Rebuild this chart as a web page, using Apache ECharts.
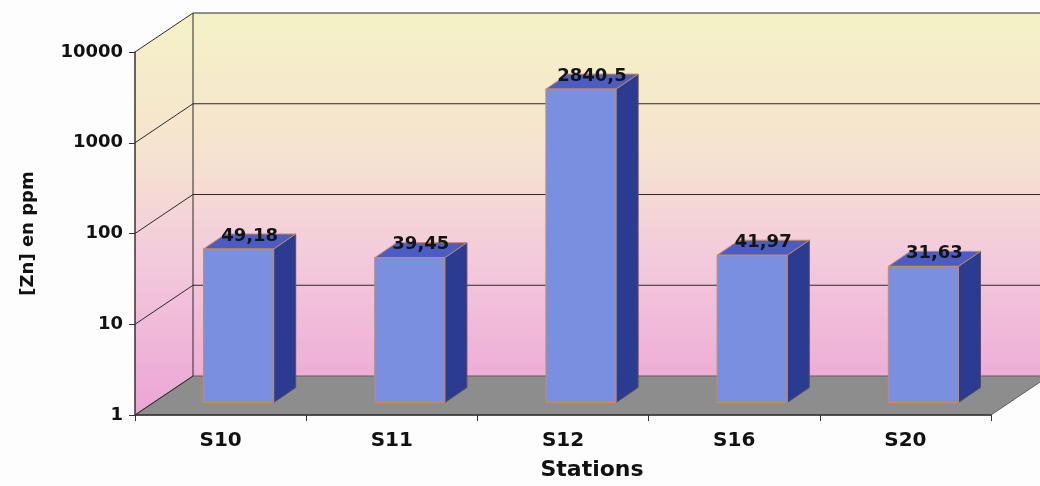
<!DOCTYPE html>
<html>
<head>
<meta charset="utf-8">
<script src="https://cdn.jsdelivr.net/npm/echarts@6/dist/echarts.min.js"></script>
<style>
  html, body { margin: 0; padding: 0; background: #fdfdfd; }
  #chart { width: 1040px; height: 486px; }
</style>
</head>
<body>
<div id="chart"></div>
<script>
// Zinc concentration per sampling station (ppm), log scale
const categories = ['S10', 'S11', 'S12', 'S16', 'S20'];
const znValues = [49.18, 39.45, 2840.5, 41.97, 31.63];
const yTicks = [1, 10, 100, 1000, 10000];

// Pseudo-3D geometry (pixels)
const WALL_DX = 58, WALL_DY = -39;      // depth of the walls / floor
const BAR_OX = 18, BAR_OY = -12.5;      // bars sit inside the depth
const BAR_DX = 22, BAR_DY = -15;        // thickness of each bar
const BAR_RATIO = 0.41;                 // front face width / category width

const FONT = 'DejaVu Sans';

const chart = echarts.init(document.getElementById('chart'), null, { renderer: 'canvas' });

function wallGradient(y0, y1) {
  return {
    type: 'linear', x: 0, y: y0, x2: 0, y2: y1, global: true,
    colorStops: [
      { offset: 0, color: '#f5f2c6' },
      { offset: 0.35, color: '#f5e3cf' },
      { offset: 0.6, color: '#f3cbdc' },
      { offset: 1, color: '#eca4d5' }
    ]
  };
}

function renderWalls(params, api) {
  const cs = params.coordSys;
  const x = cs.x, y = cs.y, w = cs.width, h = cs.height;
  const gTop = y + WALL_DY, gBot = y + h;
  const line = { stroke: '#2a2a2a', lineWidth: 1 };
  const children = [
    { type: 'polygon', shape: { points: [[x, y], [x + WALL_DX, y + WALL_DY], [x + WALL_DX, y + h + WALL_DY], [x, y + h]] },
      style: { fill: wallGradient(gTop, gBot) } },
    { type: 'rect', shape: { x: x + WALL_DX, y: y + WALL_DY, width: w, height: h },
      style: { fill: wallGradient(gTop, gBot) } },
    { type: 'polygon', shape: { points: [[x, y + h], [x + w, y + h], [x + w + WALL_DX, y + h + WALL_DY], [x + WALL_DX, y + h + WALL_DY]] },
      style: { fill: '#8d8d8d', stroke: '#5e5e5e', lineWidth: 1 } }
  ];
  yTicks.forEach(function (t) {
    const yy = api.coord([0, t])[1];
    children.push({ type: 'line', shape: { x1: x, y1: yy, x2: x + WALL_DX, y2: yy + WALL_DY }, style: line });
    if (t > yTicks[0]) {
      children.push({ type: 'line', shape: { x1: x + WALL_DX, y1: yy + WALL_DY, x2: x + w + WALL_DX, y2: yy + WALL_DY }, style: line });
    }
  });
  children.push({ type: 'line', shape: { x1: x + WALL_DX, y1: y + WALL_DY, x2: x + WALL_DX, y2: y + h + WALL_DY }, style: line });
  return { type: 'group', children: children };
}

function formatValue(v) {
  return String(v).replace('.', ',');
}

function renderBar(params, api) {
  const i = api.value(0), v = api.value(1);
  const top = api.coord([i, v]);
  const base = api.coord([i, yTicks[0]]);
  const bw = api.size([1, 0])[0] * BAR_RATIO;
  const x0 = top[0] - bw / 2 + BAR_OX, x1 = x0 + bw;
  const yt = top[1] + BAR_OY, yb = base[1] + BAR_OY;
  const edge = { stroke: '#d68a45', lineWidth: 1 };
  return {
    type: 'group',
    children: [
      { type: 'polygon', shape: { points: [[x1, yt], [x1 + BAR_DX, yt + BAR_DY], [x1 + BAR_DX, yb + BAR_DY], [x1, yb]] },
        style: { fill: '#2c3b92', stroke: '#4a4f7a', lineWidth: 1 } },
      { type: 'polygon', shape: { points: [[x0, yt], [x1, yt], [x1 + BAR_DX, yt + BAR_DY], [x0 + BAR_DX, yt + BAR_DY]] },
        style: Object.assign({ fill: '#4b5cc4' }, edge) },
      { type: 'rect', shape: { x: x0, y: yt, width: bw, height: yb - yt },
        style: Object.assign({ fill: '#7b8fe0' }, edge) },
      { type: 'text', x: (x0 + x1) / 2 + BAR_DX / 2, y: yt + BAR_DY + 2,
        style: { text: formatValue(v), fill: '#141414', fontFamily: FONT, fontSize: 18, fontWeight: 'bold',
                 align: 'center', verticalAlign: 'middle' } }
    ]
  };
}

chart.setOption({
  backgroundColor: '#fdfdfd',
  animation: false,
  grid: { left: 135, right: 49, top: 52, bottom: 70 },
  xAxis: {
    type: 'category',
    data: categories,
    z: 10,
    name: 'Stations',
    nameLocation: 'middle',
    nameGap: 44,
    nameTextStyle: { fontFamily: FONT, fontSize: 22, fontWeight: 'bold', color: '#111', padding: [0, 0, 0, 58] },
    axisLine: { show: true, lineStyle: { color: '#333', width: 1.5 } },
    axisTick: { show: true, interval: 0, length: 6, lineStyle: { color: '#333' } },
    axisLabel: { fontFamily: FONT, fontSize: 20, fontWeight: 'bold', color: '#111', margin: 16, interval: 0 },
    splitLine: { show: false }
  },
  yAxis: {
    type: 'log',
    logBase: 10,
    min: yTicks[0],
    max: yTicks[yTicks.length - 1],
    z: 10,
    name: '[Zn] en ppm',
    nameLocation: 'middle',
    nameGap: 98,
    nameRotate: 90,
    nameTextStyle: { fontFamily: FONT, fontSize: 18, fontWeight: 'bold', color: '#111' },
    axisLine: { show: true, lineStyle: { color: '#333', width: 1.5 } },
    axisTick: { show: true, length: 6, lineStyle: { color: '#333' } },
    axisLabel: {
      fontFamily: FONT, fontSize: 18, fontWeight: 'bold', color: '#111', margin: 12,
      formatter: function (v) { return String(Math.round(v)); }
    },
    splitLine: { show: false }
  },
  series: [
    {
      type: 'custom',
      name: 'walls',
      z: 1,
      silent: true,
      clip: false,
      renderItem: renderWalls,
      data: [[0, yTicks[0]]]
    },
    {
      type: 'custom',
      name: '[Zn]',
      z: 3,
      clip: false,
      renderItem: renderBar,
      encode: { x: 0, y: 1 },
      data: znValues.map(function (v, i) { return [i, v]; })
    }
  ]
});
</script>
</body>
</html>
